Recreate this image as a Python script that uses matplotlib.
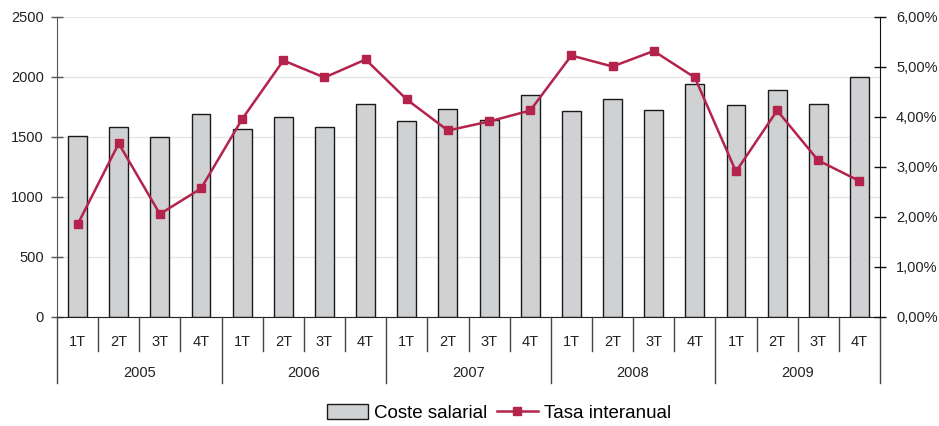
import matplotlib
matplotlib.use("Agg")
import matplotlib.pyplot as plt
import matplotlib.transforms as mtransforms
from matplotlib.ticker import FuncFormatter, MultipleLocator
import numpy as np

plt.rcParams['font.family'] = ['Liberation Sans', 'DejaVu Sans']

years = ['2005', '2006', '2007', '2008', '2009']
quarters = ['1T', '2T', '3T', '4T']
coste_salarial = [1508, 1586, 1503, 1689,
                  1569, 1667, 1580, 1775,
                  1636, 1736, 1639, 1853,
                  1717, 1817, 1728, 1944,
                  1767, 1894, 1778, 1997]
tasa_interanual = [1.85, 3.47, 2.06, 2.57,
                   3.96, 5.13, 4.79, 5.15,
                   4.35, 3.73, 3.91, 4.13,
                   5.23, 5.01, 5.32, 4.79,
                   2.91, 4.13, 3.13, 2.72]

n = len(coste_salarial)
x = np.arange(n)

fig = plt.figure(figsize=(9.39, 4.26), dpi=100)
ax = fig.add_axes([57/939, 1-317/426, (880-57)/939, 300/426])
ax2 = ax.twinx()

bar_color = '#D0D1D3'
line_color = '#B3234B'

bars = ax.bar(x, coste_salarial, width=0.46, color=bar_color, edgecolor='#1a1a1a',
              linewidth=1.0, zorder=2, label='Coste salarial')
ax.set_xlim(-0.5, n - 0.5)
ax.set_ylim(0, 2500)
ax.yaxis.set_major_locator(MultipleLocator(500))
ax.grid(axis='y', color='#E6E6E6', linewidth=1.0, zorder=0)
ax.set_axisbelow(True)

line, = ax2.plot(x, [v / 100 for v in tasa_interanual], color=line_color, linewidth=1.8,
                 marker='s', markersize=5.5, markeredgecolor=line_color, zorder=3,
                 label='Tasa interanual')
ax2.set_ylim(0, 0.06)
ax2.yaxis.set_major_locator(MultipleLocator(0.01))
ax2.yaxis.set_major_formatter(FuncFormatter(lambda v, p: f"{v*100:.2f}%".replace('.', ',')))

for a in (ax, ax2):
    a.spines['top'].set_visible(False)
ax.spines['right'].set_visible(False)
ax2.spines['left'].set_visible(False)
ax2.spines['bottom'].set_visible(False)
ax.spines['left'].set_color('#555555')
ax.spines['bottom'].set_color('#222222')
ax2.spines['right'].set_color('#111111')

ax.tick_params(axis='y', direction='inout', length=9, width=1, color='#555555',
               labelsize=10.5, pad=5, labelcolor='#222222')
ax2.tick_params(axis='y', direction='inout', length=9, width=1, color='#111111',
                labelsize=10.5, pad=7, labelcolor='#222222')
ax.set_xticks([])

# category axis (quarters and years)
trans = mtransforms.blended_transform_factory(ax.transData, ax.transAxes)
for b in range(n + 1):
    pos = b - 0.5
    if b % 4 == 0:
        ax.plot([pos, pos], [0, -0.22], transform=trans, color='#444444', lw=1.0,
                clip_on=False, zorder=5)
    else:
        ax.plot([pos, pos], [0.0, -0.113], transform=trans, color='#444444', lw=1.0,
                clip_on=False, zorder=5)
for i in range(n):
    ax.text(i, -0.083, quarters[i % 4], transform=trans, ha='center', va='center',
            fontsize=10.5, color='#222222')
for k, yr in enumerate(years):
    ax.text(4 * k + 1.5, -0.187, yr, transform=trans, ha='center', va='center',
            fontsize=10.5, color='#222222')

leg = fig.legend([bars, line], ['Coste salarial', 'Tasa interanual'], loc='center',
                 bbox_to_anchor=(499/939, 1-413/426), ncol=2, frameon=False,
                 fontsize=13.5, handlelength=2.2, handleheight=0.8, columnspacing=0.5,
                 handletextpad=0.3, borderaxespad=0)

fig.savefig('out.png', dpi=100)
